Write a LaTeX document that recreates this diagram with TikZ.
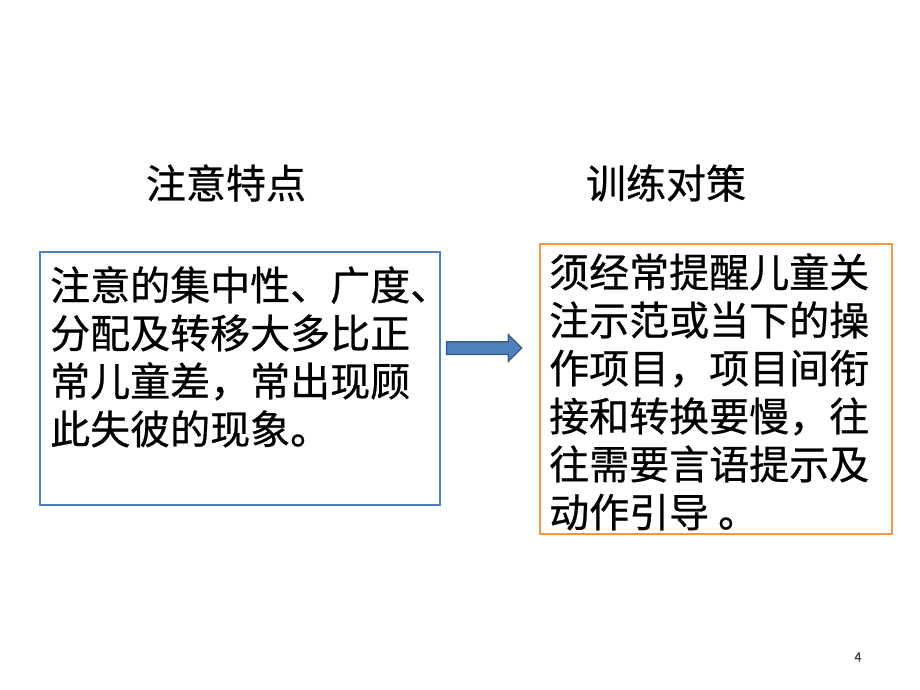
\documentclass[tikz,border=0pt]{standalone}
\usepackage{fontspec}
\setmainfont{Noto Sans CJK SC}[FakeBold=0.6]
\usetikzlibrary{shapes.arrows}
\definecolor{boxblue}{RGB}{79,129,189}
\definecolor{boxorange}{RGB}{247,150,70}
\definecolor{arrowedge}{RGB}{56,93,138}

\begin{document}
\begin{tikzpicture}[x=1pt,y=-1pt]
    \tikzstyle{every node}=[font=\fontsize{40}{48}\selectfont, inner sep=0pt]
    \tikzstyle{frame}=[draw, line width=2pt, anchor=north west]
    \tikzstyle{body}=[align=left, anchor=north west]
    \useasboundingbox (0,0) rectangle (920,690);

    \node (ttraits) at (226,183) {注意特点};
    \node (tplan) at (666,183) {训练对策};

    \node[frame, draw=boxblue, minimum width=400pt, minimum height=253pt] (traits) at (39,251) {};
    \node[body] (traitstxt) at (50,266) {注意的集中性、广度、\\分配及转移大多比正\\常儿童差，常出现顾\\此失彼的现象。};

    \node[frame, draw=boxorange, minimum width=352pt, minimum height=290pt] (plan) at (539,243) {};
    \node[body] (plantxt) at (549,253) {须经常提醒儿童关\\注示范或当下的操\\作项目，项目间衔\\接和转换要慢，往\\往需要言语提示及\\动作引导 。};

    \node[single arrow, fill=boxblue, draw=arrowedge, line width=1.5pt, inner xsep=0pt, inner ysep=5.5pt,
          minimum height=75pt, single arrow head extend=7pt] (arrow) at (481,348) {};

    \node[font=\fontsize{13}{15}\selectfont, text=black!75] (pgnum) at (858,657) {4};
\end{tikzpicture}
\end{document}
